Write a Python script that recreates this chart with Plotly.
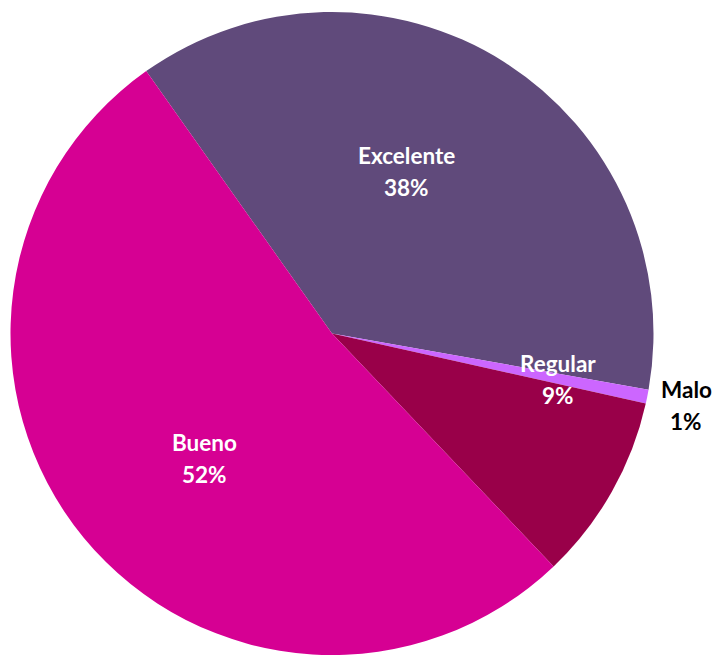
import plotly.graph_objects as go

# Data
categories = ["Excelente", "Malo", "Regular", "Bueno"]
values = [37.6, 0.7, 9.4, 52.3]

# Styling
colors = ["#604A7B", "#CC66FF", "#990049", "#D60093"]
label_colors = ["white", "black", "white", "white"]
# label block centers in pixels (x, y from top)
label_px = [(406, 171), (686, 405), (558, 379), (204, 458)]
LINE_GAP = 32

W, H = 718, 655
total = sum(values)

fig = go.Figure(
    go.Pie(
        labels=categories,
        values=values,
        sort=False,
        direction="clockwise",
        rotation=-35.3,
        marker=dict(colors=colors, line=dict(width=0)),
        textinfo="none",
        hoverinfo="label+percent",
        domain=dict(x=[10.5 / W, 653.5 / W], y=[0, 1 - 12 / H]),
        showlegend=False,
    )
)

for cat, v, col, (px, py) in zip(categories, values, label_colors, label_px):
    pct = round(100 * v / total)
    for txt, dy in ((cat, -LINE_GAP / 2), (f"{pct}%", LINE_GAP / 2)):
        fig.add_annotation(
            x=px / W, y=1 - (py + dy) / H, xref="paper", yref="paper",
            text=f"<b>{txt}</b>",
            showarrow=False, xanchor="center", yanchor="middle",
            font=dict(family="Lato", size=22.5, color=col),
        )

fig.update_layout(
    width=W, height=H,
    margin=dict(l=0, r=0, t=0, b=0),
    paper_bgcolor="white",
    plot_bgcolor="white",
)

fig.write_html(
    "out.html",
    config={"displayModeBar": False},
    post_script="document.body.style.margin='0';document.body.style.overflow='hidden';",
)
